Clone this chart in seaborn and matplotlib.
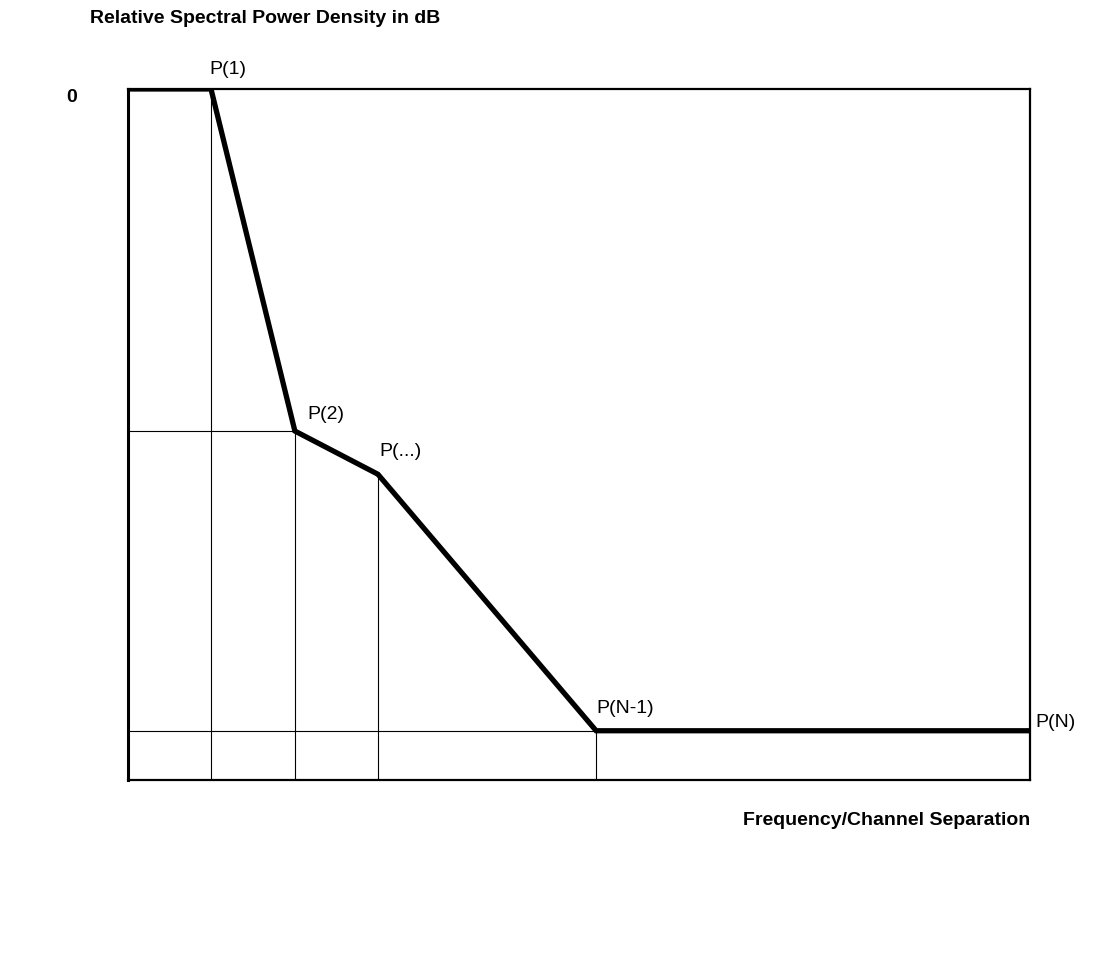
import numpy as np
import pandas as pd
import matplotlib
matplotlib.use('Agg')
import matplotlib.pyplot as plt
import seaborn as sns

# mask points (frequency offset in % of span, relative level in dB)
labels = ['P(1)', 'P(2)', 'P(...)', 'P(N-1)', 'P(N)']
freq = [9.2, 18.5, 27.7, 51.9, 100.0]
level = [0, -39.6, -44.6, -74.3, -74.3]

df = pd.DataFrame({'freq': [0.0] + freq, 'level': [0.0] + level})

sns.set_style('white')
plt.rcParams['font.family'] = ['Liberation Sans', 'DejaVu Sans']
plt.rcParams['text.color'] = 'black'

fig = plt.figure(figsize=(10.96, 9.8), dpi=100)
ax = fig.add_axes([0.1168, 0.2041, 0.823, 0.7051])

# thin reference lines down to the bottom and across to the y axis
ax.vlines(freq[:4], -80, level[:4], color='black', lw=0.8)
ax.hlines([level[1], level[3]], 0, [freq[1], freq[4]], color='black', lw=0.8)

sns.lineplot(data=df, x='freq', y='level', color='black', lw=3.8, ax=ax,
             solid_joinstyle='miter')

ax.set_xlim(0, 100)
ax.set_ylim(-80, 0)
ax.set_xticks([])
ax.set_yticks([])
ax.set_xlabel('')
ax.set_ylabel('')
for s in ax.spines.values():
    s.set_color('black')
    s.set_linewidth(1.6)
ax.spines['left'].set_linewidth(2.2)

# point labels
offs = [(12, 8, 'center', 'bottom'), (9, 6, 'left', 'bottom'), (1, 10, 'left', 'bottom'),
        (0, 10, 'left', 'bottom'), (4, 0, 'left', 'bottom')]
for lab, x, y, (dx, dy, ha, va) in zip(labels, freq, level, offs):
    ax.annotate(lab, (x, y), xytext=(dx, dy), textcoords='offset points',
                ha=ha, va=va, fontsize=14, annotation_clip=False)

fig.text(0.082, 0.981, 'Relative Spectral Power Density in dB', fontsize=14,
         fontweight='bold', ha='left', va='center')
fig.text(0.065, 0.901, '0', fontsize=14, fontweight='bold', ha='center', va='center')
fig.text(0.940, 0.163, 'Frequency/Channel Separation', fontsize=14,
         fontweight='bold', ha='right', va='center')

fig.savefig('out.png', dpi=100)
